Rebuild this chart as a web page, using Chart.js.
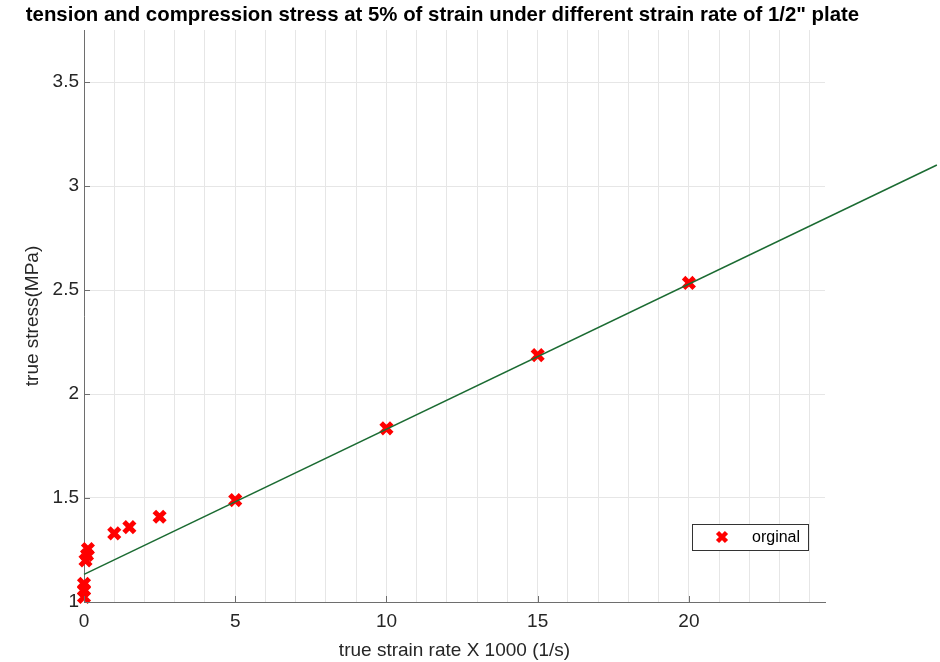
<!DOCTYPE html>
<html>
<head>
<meta charset="utf-8">
<script src="https://cdn.jsdelivr.net/npm/chart.js@4/dist/chart.umd.min.js"></script>
<style>
  html, body { margin: 0; padding: 0; background: #fff; }
  #wrap { width: 940px; height: 662px; }
</style>
</head>
<body>
<div id="wrap"><canvas id="stressChart" width="940" height="662"></canvas></div>
<script>
// measured points (strain rate x1000, true stress)
const strainRate = [0, 0, 0, 0.05, 0.1, 0.13, 1, 1.5, 2.5, 5, 10, 15, 20];
const trueStress = [1.024, 1.058, 1.087, 1.200, 1.226, 1.255, 1.33, 1.36, 1.41, 1.49, 1.835, 2.187, 2.534];

// linear fit line end points
const fitRate = [0, 28.2];
const fitStress = [1.133, 3.101];

const xTickLabels = [0, 5, 10, 15, 20];
const yTickLabels = [1, 1.5, 2, 2.5, 3, 3.5];

const titleText = 'tension and compression stress at 5% of strain under different strain rate of 1/2" plate';
const legendLabel = 'orginal';

const FONT = "'Liberation Sans', Arial, sans-serif";
const GRID = '#e6e6e6';
const AXIS = '#6e6e6e';
const TEXT = '#262626';

const ctx = document.getElementById('stressChart').getContext('2d');

// title, inward tick marks and legend box (matlab style)
const extrasPlugin = {
    id: 'extras',
    afterDraw: chart => {
        const { ctx, chartArea } = chart;
        const xs = chart.scales.x, ys = chart.scales.y;
        ctx.save();
        ctx.strokeStyle = AXIS;
        ctx.lineWidth = 1;
        xTickLabels.forEach(v => {
            const px = Math.round(xs.getPixelForValue(v)) + 0.5;
            ctx.beginPath();
            ctx.moveTo(px, chartArea.bottom);
            ctx.lineTo(px, chartArea.bottom - 6);
            ctx.stroke();
        });
        yTickLabels.forEach(v => {
            const py = Math.round(ys.getPixelForValue(v)) + 0.5;
            ctx.beginPath();
            ctx.moveTo(chartArea.left, py);
            ctx.lineTo(chartArea.left + 6, py);
            ctx.stroke();
        });

        // title
        ctx.fillStyle = '#000';
        ctx.font = 'bold 20.4px ' + FONT;
        ctx.textAlign = 'center';
        ctx.textBaseline = 'middle';
        ctx.fillText(titleText, (chartArea.left + chartArea.right) / 2 - 12, 15);

        // legend
        const bx = chartArea.right - 133, by = chartArea.bottom - 78;
        ctx.fillStyle = '#fff';
        ctx.fillRect(bx, by, 116, 26);
        ctx.strokeStyle = '#333';
        ctx.strokeRect(bx + 0.5, by + 0.5, 116, 26);
        ctx.strokeStyle = '#ff0000';
        ctx.lineWidth = 4.5;
        const mx = bx + 30, my = by + 13, r = 4.5;
        ctx.beginPath();
        ctx.moveTo(mx - r, my - r); ctx.lineTo(mx + r, my + r);
        ctx.moveTo(mx - r, my + r); ctx.lineTo(mx + r, my - r);
        ctx.stroke();
        ctx.fillStyle = '#000';
        ctx.font = '16px ' + FONT;
        ctx.textAlign = 'left';
        ctx.fillText(legendLabel, bx + 60, my + 1);
        ctx.restore();
    }
};

const chart = new Chart(ctx, {
    type: 'scatter',
    data: {
        datasets: [{
            label: 'fit',
            type: 'line',
            data: fitRate.map((x, i) => ({ x: x, y: fitStress[i] })),
            borderColor: '#1b6b32',
            borderWidth: 1.5,
            pointRadius: 0,
            fill: false,
            clip: false
        }, {
            label: legendLabel,
            data: strainRate.map((x, i) => ({ x: x, y: trueStress[i] })),
            pointStyle: 'crossRot',
            pointRadius: 7.5,
            pointHoverRadius: 7.5,
            borderColor: '#ff0000',
            backgroundColor: '#ff0000',
            pointBorderWidth: 5,
            clip: false
        }]
    },
    options: {
        responsive: false,
        animation: false,
        layout: { padding: { top: 30, right: 115, left: 0, bottom: 0 } },
        plugins: {
            legend: { display: false },
            title: { display: false },
            tooltip: { enabled: false }
        },
        scales: {
            x: {
                type: 'linear',
                min: 0,
                max: 24.5,
                // grid every 1, labels every 5
                afterBuildTicks: scale => {
                    const t = [];
                    for (let i = 0; i <= 24; i++) t.push({ value: i });
                    scale.ticks = t;
                },
                afterFit: scale => { scale.height = 60; },
                ticks: {
                    autoSkip: false,
                    maxRotation: 0,
                    padding: 8,
                    color: TEXT,
                    font: { family: FONT, size: 19 },
                    callback: v => (v % 5 === 0 ? String(v) : '')
                },
                grid: { color: GRID, drawTicks: false },
                border: { color: AXIS, width: 1 },
                title: {
                    display: true,
                    text: 'true strain rate X 1000 (1/s)',
                    color: TEXT,
                    font: { family: FONT, size: 19 },
                    padding: { top: 0, bottom: 0 }
                }
            },
            y: {
                type: 'linear',
                min: 1,
                max: 3.75,
                afterBuildTicks: scale => {
                    scale.ticks = yTickLabels.map(v => ({ value: v }));
                },
                afterFit: scale => { scale.width = 84; },
                ticks: {
                    padding: 5,
                    color: TEXT,
                    font: { family: FONT, size: 19 },
                    callback: v => String(v)
                },
                grid: { color: GRID, drawTicks: false },
                border: { color: AXIS, width: 1 },
                title: {
                    display: true,
                    text: 'true stress(MPa)',
                    color: TEXT,
                    font: { family: FONT, size: 19 },
                    padding: { top: 21, bottom: 0 }
                }
            }
        }
    },
    plugins: [extrasPlugin]
});
</script>
</body>
</html>
